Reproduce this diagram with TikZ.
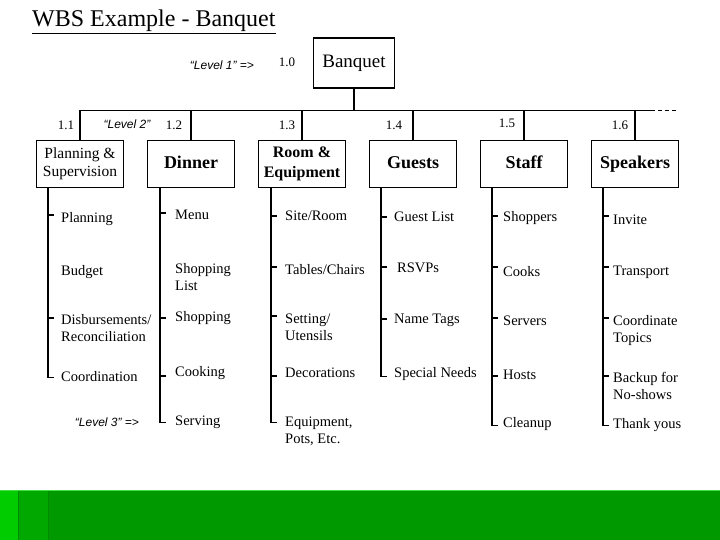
\documentclass[tikz,border=0pt]{standalone}
\usepackage{fontspec}
\setmainfont{Liberation Serif}
\newfontfamily\lsans{Liberation Sans}
\definecolor{gA}{HTML}{00CC00}
\definecolor{gB}{HTML}{00A800}
\definecolor{gC}{HTML}{009900}
\definecolor{gD}{HTML}{008A00}
\definecolor{gL}{HTML}{44DD44}
\tikzset{
  wbs/.style={line width=1.2pt},
  box/.style={draw, line width=1.2pt, minimum width=87pt, minimum height=47pt, align=center, inner sep=1pt},
  onebox/.style={box, text height=12.5pt, text depth=4pt, font=\fontsize{18}{22}\selectfont\bfseries},
  item/.style={anchor=west, align=left, inner sep=0pt, font=\fontsize{14.5}{17}\selectfont},
  num/.style={inner sep=0pt, font=\fontsize{13}{15}\selectfont},
  lvl/.style={inner sep=0pt, font=\lsans\itshape\fontsize{12}{14}\selectfont}
}
\begin{document}
\begin{tikzpicture}[x=1pt,y=-1pt]
\path[use as bounding box, fill=white] (0,0) rectangle (720,540);
% green bar
\fill[gC] (0,490) rectangle (720,540);
\fill[gA] (0,490) rectangle (18,540);
\fill[gB] (18,490) rectangle (48,540);
\draw[gD, line width=1.2pt] (18.6,490) -- (18.6,540) (48.6,490) -- (48.6,540);
\draw[gL, line width=0.8pt] (0,490.4) -- (720,490.4);

% title
\node[anchor=base west, inner sep=0pt, font=\fontsize{24}{28}\selectfont] (title) at (32,27) {WBS Example - Banquet};
\draw[line width=1pt] ([yshift=-1pt]title.south west) -- ([yshift=-1pt]title.south east);

% level labels
\node[lvl] (lv1) at (222,65) {“Level 1” =>};
\node[lvl] (lv2) at (127,124) {“Level 2”};
\node[lvl] (lv3) at (107,422) {“Level 3” =>};

% level 1 box
\node[box, minimum width=81pt, minimum height=50pt, text height=13pt, text depth=4.5pt, font=\fontsize{19}{22}\selectfont] (b0) at (354,63) {Banquet};
\node[num] (n0) at (287,62) {1.0};

% level 2 boxes
\node[box, font=\fontsize{15.5}{18}\selectfont] (b1) at (80,164) {Planning \&\\Supervision};
\node[onebox] (b2) at (191,164) {Dinner};
\node[box, font=\fontsize{16}{19.5}\selectfont\bfseries] (b3) at (302,164) {Room \&\\Equipment};
\node[onebox] (b4) at (413,164) {Guests};
\node[onebox] (b5) at (524,164) {Staff};
\node[onebox] (b6) at (635,164) {Speakers};

\node[num] (n1) at (66,125) {1.1};
\node[num] (n2) at (174,125) {1.2};
\node[num] (n3) at (287,125) {1.3};
\node[num] (n4) at (394,125) {1.4};
\node[num] (n5) at (507,123) {1.5};
\node[num] (n6) at (620,125) {1.6};

% bus
\coordinate (busL) at (80,110.5);
\coordinate (busR) at (651,110.5);
\coordinate (busE) at (678,110.5);
\draw[wbs] (busL) -- (busR);
\draw[wbs, dash pattern=on 4pt off 3pt] (busR) -- (busE);
\draw[wbs] (b0.south) -- (b0.south |- busL);
\foreach \b in {b1,b2,b3,b4,b5,b6}
  \draw[wbs] (\b.north) -- (\b.north |- busL);

% column coordinates
\coordinate (c1) at (48,0);
\coordinate (c2) at (160,0);
\coordinate (c3) at (271,0);
\coordinate (c4) at (381,0);
\coordinate (c5) at (492,0);
\coordinate (c6) at (603,0);

% level 3 verticals with end corners
\draw[wbs] (b1.south -| c1) -- ++(0,189.5) -- ++(6,0);
\draw[wbs] (b2.south -| c2) -- ++(0,234.5) -- ++(6,0);
\draw[wbs] (b3.south -| c3) -- ++(0,234.5) -- ++(6,0);
\draw[wbs] (b4.south -| c4) -- ++(0,188.5) -- ++(6,0);
\draw[wbs] (b5.south -| c5) -- ++(0,237.5) -- ++(6,0);
\draw[wbs] (b6.south -| c6) -- ++(0,237.5) -- ++(6,0);

% ticks
\foreach \x/\y in {48/215, 48/318,
                   160/213, 160/318, 160/376,
                   271/216, 271/267, 271/316, 271/376,
                   381/217, 381/267, 381/319,
                   492/216, 492/267, 492/318, 492/376,
                   603/216, 603/267, 603/318, 603/376}
  \draw[wbs] (\x,\y) -- ++(6,0);

% items
\node[item] (i11) at (61,219) {Planning};
\node[item] (i12) at (61,272) {Budget};
\node[item] (i13) at (61,328.5) {Disbursements/\\Reconciliation};
\node[item] (i14) at (61,377) {Coordination};

\node[item] (i21) at (175,215) {Menu};
\node[item] (i22) at (175,277.5) {Shopping\\List};
\node[item] (i23) at (175,318) {Shopping};
\node[item] (i24) at (175,373) {Cooking};
\node[item] (i25) at (175,422) {Serving};

\node[item] (i31) at (285,216) {Site/Room};
\node[item] (i32) at (285,270) {Tables/Chairs};
\node[item] (i33) at (285,327.5) {Setting/\\Utensils};
\node[item] (i34) at (285,373) {Decorations};
\node[item] (i35) at (285,431.5) {Equipment,\\Pots, Etc.};

\node[item] (i41) at (394,217) {Guest List};
\node[item] (i42) at (397,268) {RSVPs};
\node[item] (i43) at (394,320) {Name Tags};
\node[item] (i44) at (394,374) {Special Needs};

\node[item] (i51) at (503,218) {Shoppers};
\node[item] (i52) at (503,272) {Cooks};
\node[item] (i53) at (503,321) {Servers};
\node[item] (i54) at (503,375) {Hosts};
\node[item] (i55) at (503,424) {Cleanup};

\node[item] (i61) at (613,220) {Invite};
\node[item] (i62) at (613,272) {Transport};
\node[item] (i63) at (613,331) {Coordinate\\Topics};
\node[item] (i64) at (613,386) {Backup for\\No-shows};
\node[item] (i65) at (613,425) {Thank yous};
\end{tikzpicture}
\end{document}
